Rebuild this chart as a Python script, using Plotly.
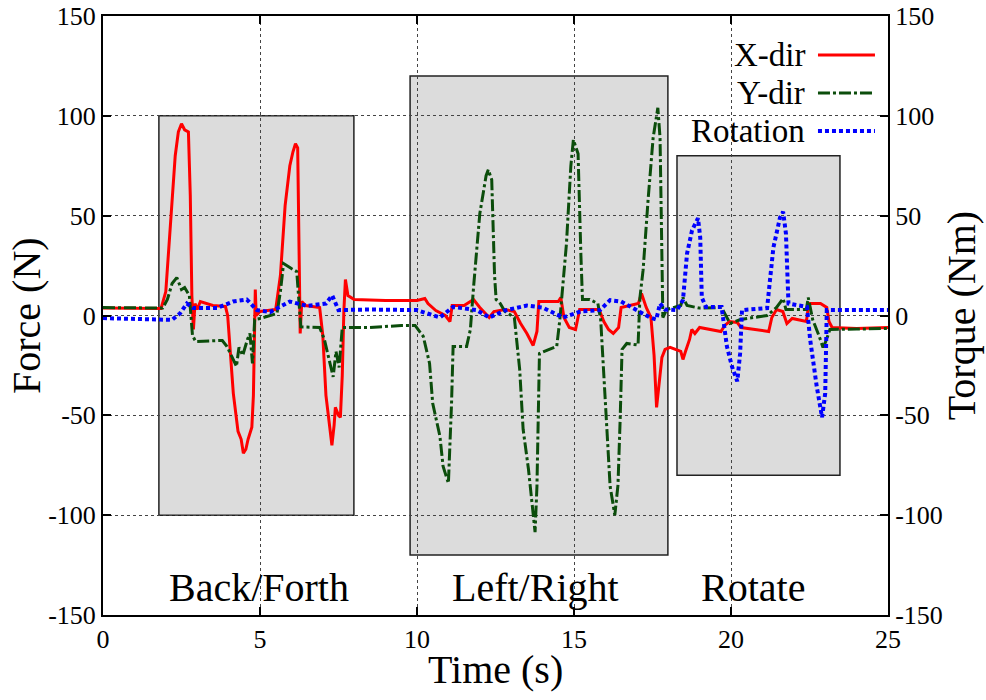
import plotly.graph_objects as go

# ---- X-direction force (N) ----
x_t = [0, 1.0, 1.85, 2.0, 2.15, 2.3, 2.4, 2.5, 2.6, 2.72, 2.78, 2.83, 2.88, 2.93, 3.0, 3.1, 3.5, 3.9,
       3.97, 4.08, 4.15, 4.3, 4.4, 4.47, 4.55, 4.62, 4.74, 4.79, 4.82, 4.85, 4.88, 5.0, 5.5, 5.65, 5.8,
       5.95, 6.05, 6.13, 6.2, 6.24, 6.28, 6.33, 6.45, 6.9, 7.0, 7.1, 7.2, 7.29, 7.36, 7.4, 7.5, 7.56,
       7.62, 7.67, 7.72, 7.8, 8.0, 9.0, 10.0, 10.25, 10.35, 10.6, 10.9, 11.05, 11.12, 11.5, 11.8, 12.0,
       12.3, 12.45, 12.8, 13.1, 13.3, 13.5, 13.7, 13.82, 13.88, 14.5, 14.58, 14.68, 14.85, 15.05, 15.18,
       15.8, 15.95, 16.1, 16.25, 16.42, 16.5, 17.05, 17.15, 17.3, 17.45, 17.55, 17.63, 17.7, 17.8, 17.9,
       18.06, 18.4, 18.47, 18.55, 18.68, 18.75, 18.85, 19.0, 19.68, 19.8, 19.95, 20.2, 20.32, 21.2, 21.3,
       21.45, 21.65, 21.78, 21.95, 22.4, 22.48, 22.85, 23.05, 23.12, 23.22, 24.0, 25.0]
x_force = [3.8, 3.5, 3.5, 12, 45, 80, 92, 96, 93, 92, 60, 10, -7, 6, 3, 7, 5, 4.5,
           0, -25, -39, -58, -62, -69, -67, -62, -56, -40, 0, 13, 0, 2, 3, 20, 55,
           75, 82, 86, 84, 40, -9, 7, 5, 4, -10, -40, -55, -65, -55, -46, -50, -51,
           -30, 2, 18, 10, 8, 7.5, 7.5, 8.5, 6, 2.5, 0, -3, 5, 5, 8, 4,
           -1, 2, 3, 2, -4, -9, -15, -8, 7, 7, 9, -1, -6, -7, 3,
           3, -3, -7, -9, -6, 4, 6, 11, 4, -1, -20, -46, -35, -21, -17,
           -16, -18, -22, -18, -12, -7, -9, -6, -8, -5, -3, -3.5, -6, -8, -1,
           3, 2, -4, -1.5, -3, 6, 6, 4, -3, -6, -6.5, -6]

# ---- Y-direction force (N) ----
y_t = [0, 1.9, 2.05, 2.2, 2.35, 2.5, 2.6, 2.75, 2.85, 2.95, 3.8, 3.95, 4.1, 4.25, 4.33, 4.45, 4.6,
       4.68, 4.76, 4.83, 5.0, 5.54, 5.65, 5.75, 6.0, 6.17, 6.25, 6.3, 6.9, 7.05, 7.2, 7.33, 7.42, 7.52,
       7.62, 8.5, 9.5, 9.94, 10.2, 10.4, 10.5, 10.73, 10.83, 11.0, 11.1, 11.15, 11.58, 11.7, 11.8, 12.0,
       12.2, 12.27, 12.38, 12.47, 12.52, 12.65, 12.8, 13.1, 13.27, 13.38, 13.55, 13.7, 13.76, 13.82,
       13.9, 14.45, 14.55, 14.76, 14.9, 14.98, 15.13, 15.22, 15.27, 15.5, 15.76, 15.85, 16.0, 16.15,
       16.3, 16.4, 16.47, 16.53, 16.68, 17.04, 17.1, 17.2, 17.36, 17.52, 17.67, 17.74, 17.83, 17.95,
       18.4, 18.47, 18.6, 19.0, 19.7, 19.97, 20.3, 21.15, 21.45, 21.66, 21.75, 22.4, 22.46, 22.6, 22.8,
       22.93, 23.02, 23.15, 24.0, 25.0]
y_force = [4, 3.7, 8, 16, 19, 13, 14, 10, -10, -13, -12.5, -15.5, -20.5, -25.5, -16, -20, -12,
           -9, -24, -2, -1.5, 1, 12, 26, 23.5, 22, 5, -5.7, -6, -12, -22, -30.7, -18, -26,
           -6, -6, -5, -5, -10.5, -24, -44, -60.5, -75.5, -84, -44, -15.5, -15.5, -7, 14, 51,
           70, 73, 68, 20, 8, 6, 2, -1, -27, -57, -77, -100, -108.5, -85.5,
           -19, -15.5, -2, 36, 75, 88, 81, 30, 8, 8, 6, -2, -44, -85.5,
           -100, -85, -52, -17, -14, -14.8, 9, 22.7, 58, 89, 104, 89, -1, 3,
           5, 9, 5, 3.7, 4, -4, -2, 0, 4, 8.5, 3, 3, 9, -2, -10,
           -16, -13, -7, -6.8, -6.5]

# ---- Rotation torque (Nm) ----
r_t = [0, 1.0, 2.2, 2.45, 2.67, 2.87, 3.63, 4.14, 4.58, 4.9, 5.32, 5.95, 6.5, 7.1, 7.3, 7.5, 8.5,
       10.0, 10.73, 11.15, 11.9, 12.3, 12.8, 13.5, 14.0, 14.65, 15.2, 15.83, 16.15, 16.5, 16.9, 17.42,
       17.62, 17.74, 17.9, 18.28, 18.47, 18.6, 18.76, 18.95, 19.02, 19.07, 19.2, 19.7, 19.87, 20.03,
       20.2, 20.29, 20.35, 21.15, 21.25, 21.35, 21.56, 21.66, 21.75, 21.83, 22.42, 22.52, 22.73, 22.9,
       23.0, 23.05, 24.0, 25.0]
r_torque = [-1.3, -1.8, -2.2, 1, 6, 3.7, 3.7, 7, 8, 2.7, 1.7, 7, 4.8, 6, 10, 2.7, 3,
            2.7, -1, 4.3, 2.7, -1, 2.5, 5, 4, -1, 2, 2.7, 7.7, 7, 3.7, -1,
            -2, 6, 3, 2.7, 7.7, 31, 42.7, 48.7, 39, 9, 4.3, 4.3, -15.5, -25.5,
            -33, -19, 2.7, 3.7, 19, 34, 49, 52, 41, 6, 4.3, -12, -35.5, -51,
            -39, 2.7, 2.7, 2.7]

# ---- Shaded phases ----
phase_names = ["Back/Forth", "Left/Right", "Rotate"]
phase_t0 = [1.78, 9.78, 18.28]
phase_t1 = [7.99, 17.99, 23.47]
phase_half = [100, 120, 80]
phase_label_x = [4.97, 13.76, 20.7]
phase_label_y = -136

# ---- Axis ticks ----
time_ticks = [0, 5, 10, 15, 20, 25]
value_ticks = [-150, -100, -50, 0, 50, 100, 150]
value_tick_text = ["-150", "-100", "-50", "0", "50", "100", "150"]

series_names = ["X-dir", "Y-dir", "Rotation"]
series_colors = ["#ff0000", "#0b4d0b", "#0000ff"]
series_dash = ["solid", "12px,3px,3px,3px", "4px,3px"]
series_width = [3, 3, 4]

FONT = "Liberation Serif"

fig = go.Figure()
fig.add_trace(go.Scatter(x=x_t, y=x_force, mode="lines", name=series_names[0],
                         line=dict(color=series_colors[0], width=series_width[0], dash=series_dash[0])))
fig.add_trace(go.Scatter(x=y_t, y=y_force, mode="lines", name=series_names[1],
                         line=dict(color=series_colors[1], width=series_width[1], dash=series_dash[1])))
fig.add_trace(go.Scatter(x=r_t, y=r_torque, mode="lines", name=series_names[2], yaxis="y2",
                         line=dict(color=series_colors[2], width=series_width[2], dash=series_dash[2])))

shapes = []
annotations = []
for name, t0, t1, h, lx in zip(phase_names, phase_t0, phase_t1, phase_half, phase_label_x):
    shapes.append(dict(type="rect", xref="x", yref="y", x0=t0, x1=t1, y0=-h, y1=h,
                       fillcolor="#dcdcdc", line=dict(color="#222", width=1.5), layer="below"))
    annotations.append(dict(x=lx, y=phase_label_y, xref="x", yref="y", text=name, showarrow=False,
                            xanchor="center", yanchor="middle",
                            font=dict(family=FONT, size=40, color="black")))

# legend drawn with text to the left of each line sample
leg_y = [0.9349, 0.8715, 0.808]
for name, col, dash, w, ly in zip(series_names, series_colors, series_dash, series_width, leg_y):
    annotations.append(dict(x=0.8968, y=ly, xref="paper", yref="paper", text=name, showarrow=False,
                            xanchor="right", yanchor="middle",
                            font=dict(family=FONT, size=33, color="black")))
    shapes.append(dict(type="line", xref="paper", yref="paper", x0=0.9108, x1=0.9834, y0=ly, y1=ly,
                       line=dict(color=col, width=w, dash=dash)))

# axis titles
title_font = dict(family=FONT, size=40, color="black")
annotations.append(dict(x=-0.0975, y=0.5, xref="paper", yref="paper", text="Force (N)",
                        textangle=-90, showarrow=False, xanchor="center", yanchor="middle",
                        font=title_font))
annotations.append(dict(x=1.094, y=0.5, xref="paper", yref="paper", text="Torque (Nm)",
                        textangle=-90, showarrow=False, xanchor="center", yanchor="middle",
                        font=title_font))
annotations.append(dict(x=0.5, y=-0.0918, xref="paper", yref="paper", text="Time (s)",
                        showarrow=False, xanchor="center", yanchor="middle", font=title_font))

tickfont = dict(family=FONT, size=26, color="black")
common = dict(ticks="inside", ticklen=8, tickwidth=1.5, tickcolor="black", showline=True,
              linecolor="black", linewidth=2, zeroline=False, tickfont=tickfont, automargin=False)
fig.update_layout(
    width=986, height=700,
    margin=dict(l=103, r=98, t=16, b=85),
    paper_bgcolor="white", plot_bgcolor="white",
    showlegend=False,
    shapes=shapes, annotations=annotations,
    xaxis=dict(range=[0, 25], tickmode="array", tickvals=time_ticks, mirror="ticks",
               showgrid=True, gridcolor="#444", griddash="dot", gridwidth=1, **common),
    yaxis=dict(range=[-150, 150], tickmode="array", tickvals=value_ticks, ticktext=value_tick_text,
               mirror=True, showgrid=True, gridcolor="#444", griddash="dot", gridwidth=1, **common),
    yaxis2=dict(range=[-150, 150], tickmode="array", tickvals=value_ticks, ticktext=value_tick_text,
                overlaying="y", side="right", showgrid=False, **common),
)

fig.write_html("out.html")
